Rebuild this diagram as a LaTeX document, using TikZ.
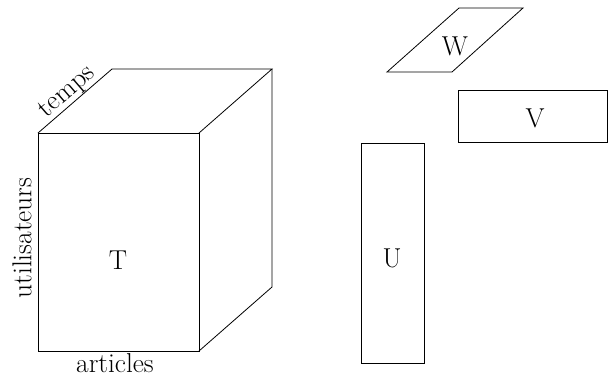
\documentclass[tikz,border=0pt]{standalone}
\begin{document}
\begin{tikzpicture}[x=0.75pt,y=-0.75pt,line width=0.6pt,
  lbl/.style={font=\fontsize{20.5}{24}\selectfont,inner sep=1pt}]
\useasboundingbox (0,0) rectangle (608,380);
% cube
\coordinate (f1) at (38,133);
\coordinate (f2) at (199,133);
\coordinate (f3) at (199,351);
\coordinate (f4) at (38,351);
\coordinate (b1) at (112,69);
\coordinate (b2) at (272,69);
\coordinate (b3) at (272,287);
\draw (f1) -- (f2) -- (f3) -- (f4) -- cycle;
\draw (f1) -- (b1) -- (b2) -- (f2);
\draw (b2) -- (b3) -- (f3);
\node[lbl] (T) at (118,260) {T};
\node[lbl,rotate=90] (ut) at (22,238) {utilisateurs};
\node[lbl,anchor=north] (ar) at (115,352) {articles};
\path (f1) -- node[lbl,sloped,anchor=south,inner sep=0pt] (tp) {temps} (b1);
% U
\draw (361,143) rectangle (424,363);
\node[lbl] (U) at (392,258) {U};
% V
\draw (458,90) rectangle (607.5,142);
\node[lbl] (V) at (535,118) {V};
% W
\draw (387,72) -- (459,8) -- (523,8) -- (452,72) -- cycle;
\node[lbl] (W) at (455,46) {W};
\end{tikzpicture}
\end{document}
